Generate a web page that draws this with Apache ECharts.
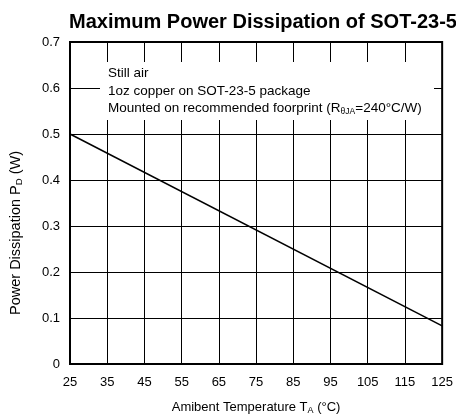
<!DOCTYPE html>
<html><head><meta charset="utf-8">
<script src="https://cdn.jsdelivr.net/npm/echarts@6/dist/echarts.min.js"></script>
<style>html,body{margin:0;padding:0;background:#fff}#c{width:456px;height:420px}</style>
</head><body><div id="c"></div>
<script>
var temps = [25, 125];
var power = [0.5, 0.083];
var xTicks = [25, 35, 45, 55, 65, 75, 85, 95, 105, 115, 125];
var yTicks = [0, 0.1, 0.2, 0.3, 0.4, 0.5, 0.6, 0.7];
var notes = ['Still air', '1oz copper on SOT-23-5 package'];

var chart = echarts.init(document.getElementById('c'));
var F = 'Liberation Sans, Arial, sans-serif';
chart.setOption({
  animation: false,
  title: {
    text: 'Maximum Power Dissipation of SOT-23-5',
    left: 258, textAlign: 'center', top: 7,
    textStyle: {fontFamily: F, fontSize: 20, fontWeight: 'bold', color: '#000'}
  },
  grid: {left: 62, right: 9, top: 42, bottom: 54, show: true, borderColor: '#000', borderWidth: 2, containLabel: false},
  xAxis: {
    type: 'value', min: 25, max: 125, interval: 10,
    name: '{n|Amibent Temperature T}{s|A}{n| (°C)}',
    nameLocation: 'middle', nameGap: 35,
    nameTextStyle: {rich: {n: {fontFamily: F, fontSize: 13, color: '#000'}, s: {fontFamily: F, fontSize: 9, color: '#000', verticalAlign: 'bottom', padding: [7, 0, 0, 0]}}},
    axisLine: {show: true, lineStyle: {color: '#000', width: 2}},
    axisTick: {show: false},
    axisLabel: {fontFamily: F, fontSize: 13, color: '#000', margin: 12, showMaxLabel: true, showMinLabel: true},
    splitLine: {show: true, lineStyle: {color: '#000', width: 1}}
  },
  yAxis: {
    type: 'value', min: 0, max: 0.7, interval: 0.1,
    name: '{n|Power Dissipation P}{s|D}{n| (W)}',
    nameLocation: 'middle', nameGap: 46,
    nameTextStyle: {padding: [0, 60, 0, 0], rich: {n: {fontFamily: F, fontSize: 14.5, color: '#000'}, s: {fontFamily: F, fontSize: 9.5, color: '#000', verticalAlign: 'bottom', padding: [7, 0, 0, 0]}}},
    axisLine: {show: true, lineStyle: {color: '#000', width: 2}},
    axisTick: {show: false},
    axisLabel: {fontFamily: F, fontSize: 13, color: '#000', margin: 10, formatter: function(v){return v === 0 ? '0' : v.toFixed(1);}},
    splitLine: {show: true, lineStyle: {color: '#000', width: 1}}
  },
  series: [{
    type: 'line', data: temps.map(function(t, i){return [t, power[i]];}),
    symbol: 'none', lineStyle: {color: '#000', width: 1.5}, z: 3
  }],
  graphic: [{
    type: 'rect', shape: {x: 100, y: 62, width: 334, height: 58},
    style: {fill: '#fff'}, z: 10
  }, {
    type: 'text', x: 108, y: 65, z: 11,
    style: {
      text: '{n|' + notes[0] + '}\n{n|' + notes[1] + '}\n{n|Mounted on recommended foorprint (R}{s|θJA}{n|=240°C/W)}',
      fontFamily: F, fontSize: 13.5, fill: '#000', lineHeight: 17.5,
      rich: {n: {fontFamily: F, fontSize: 13.5, fill: '#000', lineHeight: 17.5}, s: {fontFamily: F, fontSize: 8.5, fill: '#000', lineHeight: 17.5, padding: [6, 0, 0, 0]}}
    }
  }]
});
</script></body></html>
